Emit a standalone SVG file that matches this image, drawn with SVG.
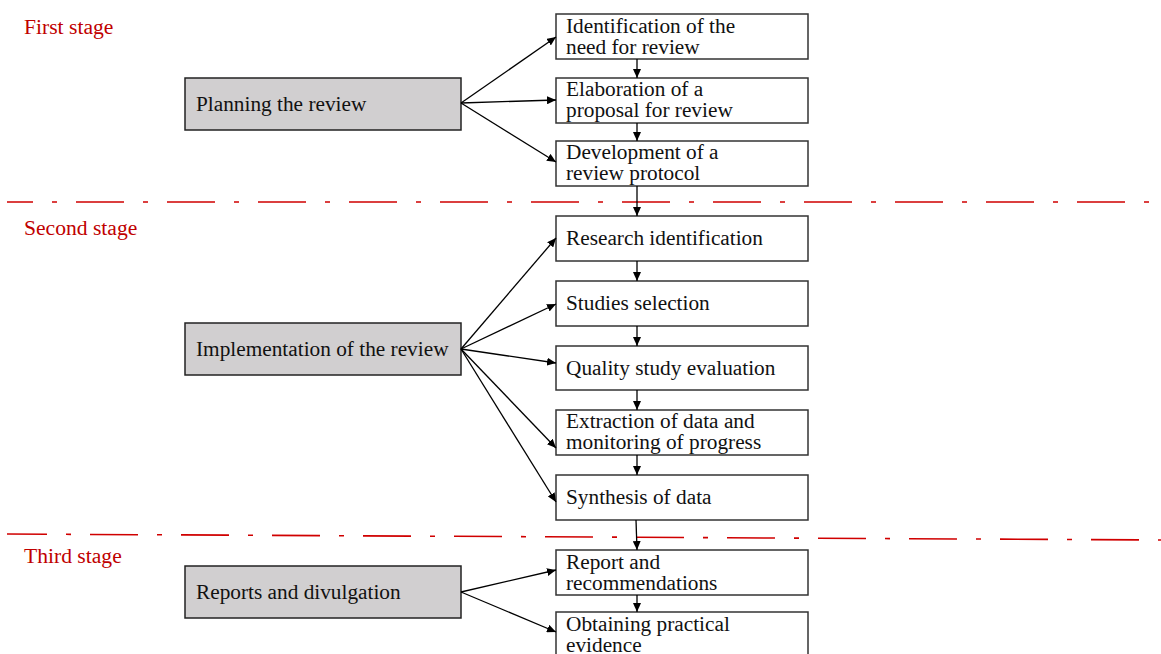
<svg xmlns="http://www.w3.org/2000/svg" width="1161" height="654" viewBox="0 0 1161 654">
<style>
.t{font-family:"Liberation Serif","Times New Roman",serif;font-size:21.3px;fill:#111}
.s{font-family:"Liberation Serif","Times New Roman",serif;font-size:21.6px;fill:#c00000}
.g{fill:#d1cfd0;stroke:#222;stroke-width:1.5}
.w{fill:#fff;stroke:#333;stroke-width:1.5}
.c{stroke:#000;stroke-width:1.3;fill:none;marker-end:url(#ah)}
.d{stroke:#d00000;stroke-width:1.6;fill:none;stroke-dasharray:48 19 5 19}
</style>
<defs>
<marker id="ah" markerWidth="10" markerHeight="8" refX="9" refY="4" orient="auto" markerUnits="userSpaceOnUse">
<path d="M0,0 L9,4 L0,8 Z" fill="#000"/>
</marker>
</defs>
<g id="separators">
<line class="d" x1="7" y1="202" x2="1156" y2="202" stroke-dashoffset="22"/>
<line class="d" x1="7" y1="534" x2="1161" y2="540" stroke-dashoffset="8"/>
</g>
<g id="stage-labels">
<text class="s" x="24" y="34">First stage</text>
<text class="s" x="24" y="235">Second stage</text>
<text class="s" x="24" y="563">Third stage</text>
</g>
<g id="planning"><rect class="g" x="185" y="78" width="276" height="52"/><text class="t" x="196" y="111">Planning the review</text></g>
<g id="implementation"><rect class="g" x="185" y="323" width="276" height="52"/><text class="t" x="196" y="356">Implementation of the review</text></g>
<g id="reports"><rect class="g" x="185" y="566" width="276" height="52"/><text class="t" x="196" y="599">Reports and divulgation</text></g>
<g id="identification"><rect class="w" x="556" y="14" width="252" height="45"/><text class="t" x="566" y="33">Identification of the</text><text class="t" x="566" y="54">need for review</text></g>
<g id="elaboration"><rect class="w" x="556" y="78" width="252" height="45"/><text class="t" x="566" y="96">Elaboration of a</text><text class="t" x="566" y="117">proposal for review</text></g>
<g id="development"><rect class="w" x="556" y="141" width="252" height="45"/><text class="t" x="566" y="159">Development of a</text><text class="t" x="566" y="180">review protocol</text></g>
<g id="research"><rect class="w" x="556" y="216" width="252" height="45"/><text class="t" x="566" y="245">Research identification</text></g>
<g id="studies"><rect class="w" x="556" y="281" width="252" height="45"/><text class="t" x="566" y="310">Studies selection</text></g>
<g id="quality"><rect class="w" x="556" y="346" width="252" height="44"/><text class="t" x="566" y="375">Quality study evaluation</text></g>
<g id="extraction"><rect class="w" x="556" y="410" width="252" height="45"/><text class="t" x="566" y="428">Extraction of data and</text><text class="t" x="566" y="449">monitoring of progress</text></g>
<g id="synthesis"><rect class="w" x="556" y="475" width="252" height="45"/><text class="t" x="566" y="504">Synthesis of data</text></g>
<g id="report"><rect class="w" x="556" y="550" width="252" height="45"/><text class="t" x="566" y="569">Report and</text><text class="t" x="566" y="590">recommendations</text></g>
<g id="obtaining"><rect class="w" x="556" y="612" width="252" height="50"/><text class="t" x="566" y="631">Obtaining practical</text><text class="t" x="566" y="652">evidence</text></g>
<g id="connectors">
<line class="c" x1="461" y1="103" x2="556" y2="37"/>
<line class="c" x1="461" y1="103" x2="556" y2="100"/>
<line class="c" x1="461" y1="103" x2="556" y2="162"/>
<line class="c" x1="461" y1="349" x2="556" y2="238"/>
<line class="c" x1="461" y1="349" x2="556" y2="304"/>
<line class="c" x1="461" y1="349" x2="556" y2="363"/>
<line class="c" x1="461" y1="349" x2="556" y2="448"/>
<line class="c" x1="461" y1="349" x2="556" y2="502"/>
<line class="c" x1="461" y1="592" x2="556" y2="570"/>
<line class="c" x1="461" y1="592" x2="556" y2="632"/>
<line class="c" x1="637" y1="59" x2="637" y2="78"/>
<line class="c" x1="637" y1="123" x2="637" y2="141"/>
<line class="c" x1="637" y1="186" x2="637" y2="216"/>
<line class="c" x1="637" y1="261" x2="637" y2="281"/>
<line class="c" x1="637" y1="326" x2="637" y2="346"/>
<line class="c" x1="637" y1="390" x2="637" y2="410"/>
<line class="c" x1="637" y1="455" x2="637" y2="475"/>
<line class="c" x1="636" y1="520" x2="637" y2="550"/>
<line class="c" x1="637" y1="595" x2="637" y2="612"/>
</g>
</svg>
